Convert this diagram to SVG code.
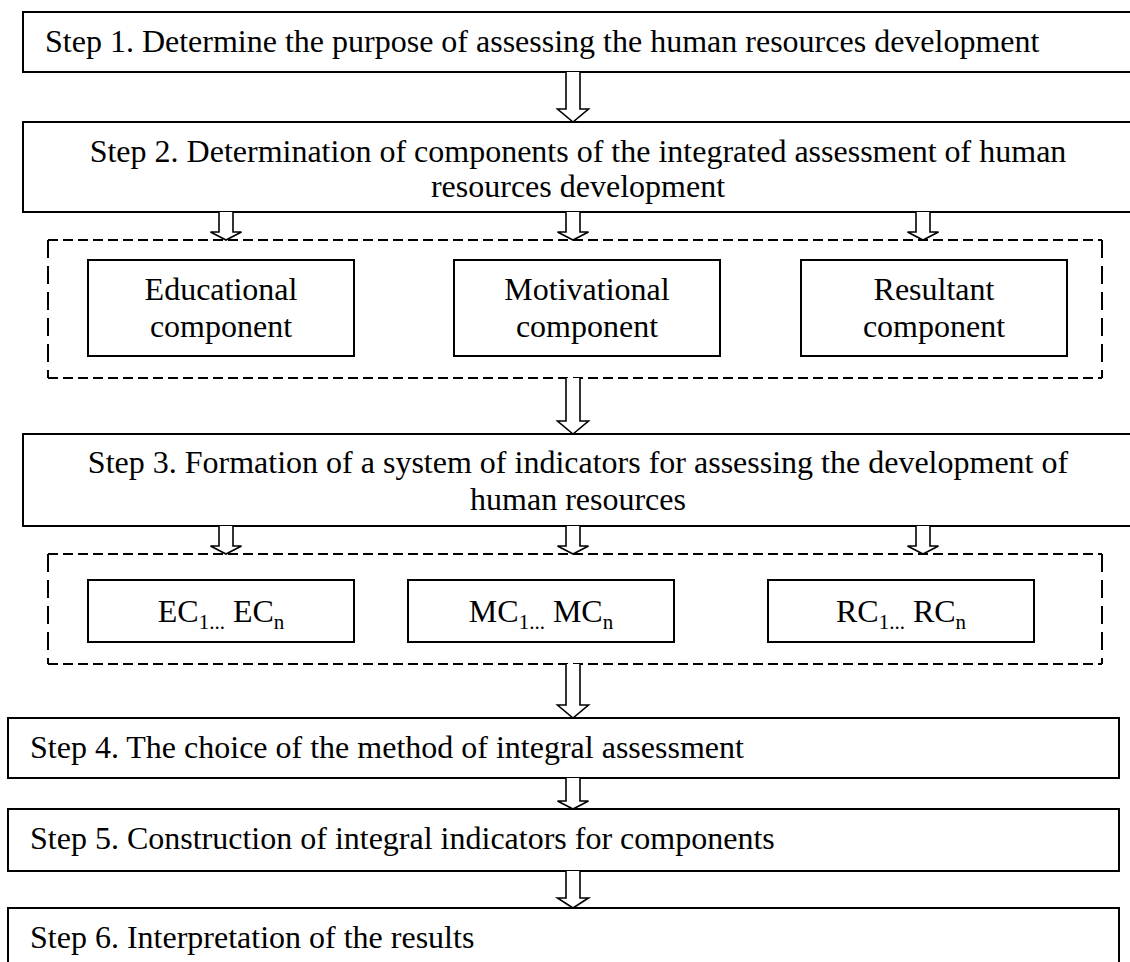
<svg xmlns="http://www.w3.org/2000/svg" width="1130" height="962" viewBox="0 0 1130 962">
<style>
.box{fill:#fff;stroke:#000;stroke-width:2}
.dh{stroke:#000;stroke-width:2;stroke-dasharray:10 5;fill:none}
.dv{stroke:#000;stroke-width:2;stroke-dasharray:18 8;fill:none}
.t{font-family:"Liberation Serif","Times New Roman",serif;font-size:32px;fill:#000}
.c{text-anchor:middle}
.sub{font-size:21px}
.arr{fill:#fff;stroke:#000;stroke-width:1.6;stroke-linejoin:miter}
</style>
<rect width="1130" height="962" fill="#fff"/>

<g id="step1">
<rect class="box" x="23" y="12" width="1112" height="60"/>
<text class="t" x="45" y="52">Step 1. Determine the purpose of assessing the human resources development</text>
</g>

<g id="step2">
<rect class="box" x="23" y="122" width="1112" height="90"/>
<text class="t c" x="578" y="162">Step 2. Determination of components of the integrated assessment of human</text>
<text class="t c" x="578" y="197">resources development</text>
</g>

<g id="components">
<line class="dh" x1="48" y1="240" x2="1102" y2="240"/>
<line class="dh" x1="48" y1="378" x2="1102" y2="378"/>
<line class="dv" x1="48" y1="240" x2="48" y2="378"/>
<line class="dv" x1="1102" y1="240" x2="1102" y2="378"/>
</g>

<g id="educational">
<rect class="box" x="88" y="260" width="266" height="96"/>
<text class="t c" x="221" y="300">Educational</text>
<text class="t c" x="221" y="337">component</text>
</g>

<g id="motivational">
<rect class="box" x="454" y="260" width="266" height="96"/>
<text class="t c" x="587" y="300">Motivational</text>
<text class="t c" x="587" y="337">component</text>
</g>

<g id="resultant">
<rect class="box" x="801" y="260" width="266" height="96"/>
<text class="t c" x="934" y="300">Resultant</text>
<text class="t c" x="934" y="337">component</text>
</g>

<g id="step3">
<rect class="box" x="23" y="434" width="1112" height="92"/>
<text class="t c" x="578" y="473">Step 3. Formation of a system of indicators for assessing the development of</text>
<text class="t c" x="578" y="510">human resources</text>
</g>

<g id="indicators">
<line class="dh" x1="48" y1="554" x2="1102" y2="554"/>
<line class="dh" x1="48" y1="664" x2="1102" y2="664"/>
<line class="dv" x1="48" y1="554" x2="48" y2="664"/>
<line class="dv" x1="1102" y1="554" x2="1102" y2="664"/>
</g>

<g id="ec">
<rect class="box" x="88" y="580" width="266" height="62"/>
<text class="t c" x="221" y="622">EC<tspan class="sub" dy="7">1...</tspan><tspan dy="-7"> EC</tspan><tspan class="sub" dy="7">n</tspan></text>
</g>

<g id="mc">
<rect class="box" x="408" y="580" width="266" height="62"/>
<text class="t c" x="541" y="622">MC<tspan class="sub" dy="7">1...</tspan><tspan dy="-7"> MC</tspan><tspan class="sub" dy="7">n</tspan></text>
</g>

<g id="rc">
<rect class="box" x="768" y="580" width="266" height="62"/>
<text class="t c" x="901" y="622">RC<tspan class="sub" dy="7">1...</tspan><tspan dy="-7"> RC</tspan><tspan class="sub" dy="7">n</tspan></text>
</g>

<g id="step4">
<rect class="box" x="8" y="718" width="1111" height="60"/>
<text class="t" x="30" y="758">Step 4. The choice of the method of integral assessment</text>
</g>

<g id="step5">
<rect class="box" x="8" y="809" width="1111" height="62"/>
<text class="t" x="30" y="849">Step 5. Construction of integral indicators for components</text>
</g>

<g id="step6">
<rect class="box" x="8" y="908" width="1111" height="70"/>
<text class="t" x="30" y="948">Step 6. Interpretation of the results</text>
</g>

<g id="connectors">
<path class="arr" d="M566,72 V109 H557.5 L573,122 L588.5,109 H580 V72"/>
<path class="arr" d="M219,212 V232 H210.5 L226,240 L241.5,232 H233 V212"/>
<path class="arr" d="M566,212 V232 H557.5 L573,240 L588.5,232 H580 V212"/>
<path class="arr" d="M916,212 V232 H907.5 L923,240 L938.5,232 H930 V212"/>
<path class="arr" d="M566,378 V421 H557.5 L573,434 L588.5,421 H580 V378"/>
<path class="arr" d="M219,526 V546 H210.5 L226,554 L241.5,546 H233 V526"/>
<path class="arr" d="M566,526 V546 H557.5 L573,554 L588.5,546 H580 V526"/>
<path class="arr" d="M916,526 V546 H907.5 L923,554 L938.5,546 H930 V526"/>
<path class="arr" d="M566,664 V705 H557.5 L573,718 L588.5,705 H580 V664"/>
<path class="arr" d="M566,778 V801 H557.5 L573,809 L588.5,801 H580 V778"/>
<path class="arr" d="M566,871 V898 H557.5 L573,908 L588.5,898 H580 V871"/>
</g>
</svg>
